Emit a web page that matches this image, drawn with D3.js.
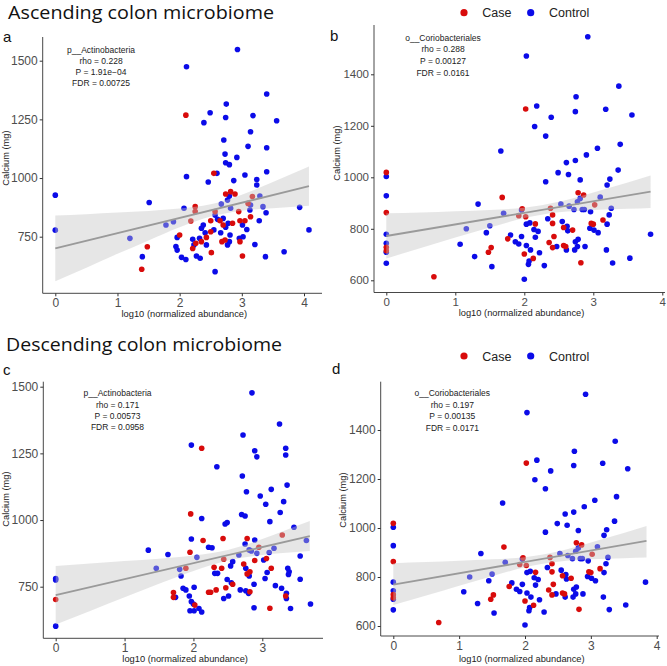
<!DOCTYPE html>
<html><head><meta charset="utf-8">
<script src="https://cdn.jsdelivr.net/npm/d3@7"></script>
<style>
html,body{margin:0;padding:0;background:#fff;}
svg{display:block;}
</style>
</head><body>
<svg id="chart" width="667" height="666"></svg>
<script>
// ---------------- DATA ----------------
const groups = ["Case", "Control"];
const titles = ["Ascending colon microbiome", "Descending colon microbiome"];
const panelLabels = ["a", "b", "c", "d"];
const xTitle = "log10 (normalized abundance)";
const yTitle = "Calcium (mg)";

const annotA = ["p__Actinobacteria", "rho = 0.228", "P = 1.91e\u221204", "FDR = 0.00725"];
const annotB = ["o__Coriobacteriales", "rho = 0.288", "P = 0.00127", "FDR = 0.0161"];
const annotC = ["p__Actinobacteria", "rho = 0.171", "P = 0.00573", "FDR = 0.0958"];
const annotD = ["o__Coriobacteriales", "rho = 0.197", "P = 0.00135", "FDR = 0.0171"];

const xTicksA = [0, 1, 2, 3, 4];
const yTicksA = [750, 1000, 1250, 1500];
const xTicksB = [0, 1, 2, 3, 4];
const yTicksB = [600, 800, 1000, 1200, 1400];
const xTicksC = [0, 1, 2, 3];
const yTicksC = [750, 1000, 1250, 1500];
const xTicksD = [0, 1, 2, 3, 4];
const yTicksD = [600, 800, 1000, 1200, 1400];

// Panel a (ascending, p__Actinobacteria)
const aCase = [[2.55,1020],[2.82,942],[2.74,932],[2.89,932],[3.17,921],[2.25,878],[2.25,857],[2.95,857],[3.10,892],[3.14,835],
 [2.18,817],[2.57,857],[2.50,818],[2.65,818],[2.85,807],[2.97,818],[3.05,818],[2.70,800],[2.50,771],[2.43,747],[2.00,757],
 [2.35,729],[2.26,722],[2.21,700],[2.68,729],[2.73,736],[2.97,729],[2.51,682],[3.01,668],[1.48,707],[1.39,611],[2.10,1268]];
const aControl = [[0,927],[0,778],[1.20,743],[1.40,665],[1.51,896],[2.11,1474],[2.93,1548],[2.49,1278],[2.39,1236],[2.75,1315],
 [2.74,1258],[3.18,1266],[3.40,1358],[3.56,1244],[3.14,1197],[2.71,1162],[3.10,1135],[3.40,1129],[2.73,1102],[2.92,1088],
 [2.74,1065],[2.80,1057],[2.60,1020],[2.11,1006],[2.46,983],[3.40,1027],[3.05,1013],[3.24,994],[3.24,970],[2.87,989],
 [2.80,923],[2.77,906],[3.29,923],[2.67,889],[2.07,871],[2.82,871],[3.14,885],[3.34,878],[3.13,864],[3.39,852],[3.28,818],
 [3.93,875],[4.08,779],[1.90,814],[1.78,800],[2.57,842],[2.61,824],[2.70,828],[2.78,807],[3.01,800],[3.08,781],[2.74,790],
 [2.66,767],[2.38,800],[2.35,786],[2.41,767],[2.55,779],[1.96,747],[2.21,739],[2.32,743],[2.23,715],[2.43,715],[2.81,757],
 [2.80,729],[2.77,715],[2.96,743],[3.02,750],[3.21,717],[1.94,708],[1.96,693],[2.03,662],[2.10,653],[2.27,668],[2.33,658],
 [3.38,665],[3.68,686],[2.57,601]];
const aFitX = [0, 4.08];
const aFitY = [700, 965];
const aBandX = [0, 0.5, 1, 1.5, 2, 2.5, 3, 3.5, 4.08];
const aBandLo = [560, 618, 677, 734, 790, 836, 861, 871, 882];
const aBandHi = [840, 846, 853, 860, 870, 888, 929, 983, 1049];

// Panels b and d (o__Coriobacteriales, same abundance / calcium values)
const bCase = [[0,1019],[0,863],[0,728],[0,715],[0.69,614],[1.48,709],[1.52,727],[1.68,922],[1.76,761],[1.92,851],[1.97,878],
 [2.00,702],[2.02,847],[2.02,1265],[2.13,685],[2.16,819],[2.36,747],[2.38,880],[2.41,854],[2.41,821],[2.43,770],[2.41,727],
 [2.57,735],[2.60,731],[2.57,805],[2.70,795],[2.78,940],[2.86,931],[2.97,821],[3.00,818],[3.02,893],[3.14,834],[2.82,668]];
const bControl = [[0,1003],[0,928],[0,779],[0,744],[0,709],[0,666],[1.07,740],[1.16,800],[1.28,692],[1.33,896],[1.45,785],
 [1.53,653],[1.50,812],[1.66,1102],[1.70,860],[1.80,776],[1.87,750],[1.92,741],[1.96,873],[1.96,770],[2.00,604],[2.03,735],
 [2.06,662],[2.07,675],[2.03,818],[2.03,1471],[2.09,718],[2.08,823],[2.18,1277],[2.15,1197],[2.14,797],[2.20,790],[2.16,767],
 [2.22,707],[2.31,1160],[2.31,983],[2.29,657],[2.39,1233],[2.34,839],[2.49,1018],[2.53,896],[2.55,828],[2.47,731],[2.61,1057],
 [2.64,1011],[2.61,718],[2.63,792],[2.62,810],[2.65,888],[2.73,718],[2.74,1255],[2.75,1313],[2.74,1065],[2.74,750],[2.78,759],
 [2.77,731],[2.72,875],[2.77,905],[2.81,918],[2.81,990],[2.84,875],[2.87,875],[2.88,731],[2.90,1087],[2.92,1546],[2.95,802],
 [2.96,866],[3.01,795],[3.06,1113],[3.07,785],[3.10,923],[3.18,1264],[3.20,970],[3.20,818],[3.19,718],[3.24,993],[3.23,854],
 [3.26,880],[3.28,667],[3.36,1028],[3.37,1354],[3.39,1128],[3.56,1242],[3.53,686],[3.83,779]];
const bFitX = [0, 3.83];
const bFitY = [772, 944];
const bBandX = [0, 0.5, 1, 1.5, 2, 2.5, 3, 3.5, 3.83];
const bBandLo = [685, 725, 766, 805, 842, 864, 873, 878, 881];
const bBandHi = [860, 863, 868, 873, 882, 905, 941, 980, 1007];

// Panel c (descending, p__Actinobacteria)
const cCase = [[0,702],[2.12,1269],[1.89,819],[1.96,1023],[3.29,944],[2.14,923],[2.43,931],[2.78,931],[1.95,879],[2.95,898],
 [2.44,853],[2.30,823],[2.41,819],[2.73,835],[2.82,806],[2.78,798],[2.89,848],[3.06,856],[3.13,819],[2.57,759],[2.47,746],
 [2.82,731],[3.34,715],[1.71,728],[1.71,710],[2.22,729],[2.25,729],[2.33,738],[2.02,681],[3.11,669]];
const cControl = [[0,781],[0,775],[0,602],[1.345,887],[1.63,871],[1.46,819],[1.80,815],[1.82,790],[1.97,1281],[2.34,1200],
 [2.85,1477],[3.25,1360],[2.72,1319],[2.89,1260],[2.92,1237],[3.34,1269],[3.34,1244],[2.71,1165],[3.13,1115],[3.36,1131],
 [2.77,1106],[2.97,1090],[3.05,1059],[3.31,1069],[3.26,1028],[2.12,1006],[2.70,1021],[2.75,1015],[2.46,985],[2.49,991],
 [3.11,994],[3.46,973],[3.64,923],[1.97,929],[2.89,925],[2.22,898],[2.27,896],[2.05,860],[2.75,910],[2.81,888],[2.84,884],
 [2.92,875],[3.10,878],[3.17,894],[2.66,869],[2.57,844],[2.54,828],[2.31,800],[2.35,800],[2.76,819],[2.81,790],[3.02,850],
 [3.07,803],[3.04,781],[3.37,819],[3.39,806],[3.38,796],[3.55,778],[3.55,865],[2.49,777],[2.55,765],[2.68,738],[2.76,735],
 [2.80,725],[2.88,759],[3.19,754],[3.28,744],[3.35,725],[3.35,706],[1.85,744],[1.89,738],[2.01,748],[1.74,710],[1.94,715],
 [2.44,706],[2.51,715],[2.00,685],[1.97,694],[1.95,660],[2.01,660],[2.08,668],[2.12,655],[2.88,671],[3.41,668],[3.70,685]];
const cFitX = [0, 3.69];
const cFitY = [718, 940];
const cBandX = [0, 0.5, 1, 1.5, 2, 2.5, 3, 3.3, 3.69];
const cBandLo = [608, 659, 710, 761, 809, 848, 869, 876, 884];
const cBandHi = [828, 837, 846, 855, 867, 888, 929, 958, 996];

// Panel d uses the same points as b
const dFitX = [0, 3.845];
const dFitY = [769, 947];
const dBandX = [0, 0.5, 1, 1.5, 2, 2.5, 3, 3.5, 3.845];
const dBandLo = [686, 724, 764, 803, 840, 862, 872, 877, 880];
const dBandHi = [856, 861, 866, 872, 881, 904, 941, 980, 1008];

// ---------------- DRAW ----------------
const colors = {Case: "#d80b0b", Control: "#0b0be8"};
const svg = d3.select("#chart");
const FONT = "'Liberation Sans', Arial, Helvetica, sans-serif";
const TITLE_FONT = "'Open Sans', Lato, sans-serif";

const panels = [
  {label: panelLabels[0], cases: aCase, ctrls: aControl, fitX: aFitX, fitY: aFitY, bX: aBandX, bLo: aBandLo, bHi: aBandHi,
   annot: annotA, xTicks: xTicksA, yTicks: yTicksA,
   xA: [0, 4], xP: [55.3, 304], yA: [750, 1500], yP: [236.7, 60.7],
   L: 42.7, R: 322, T: 37, B: 293.3, annX: 101, annY: 52.5, annDy: 11.1,
   labX: 3, labY: 42, ytX: 8.5, ytY: 158, xtY: 317, fs: 12},
  {label: panelLabels[1], cases: bCase, ctrls: bControl, fitX: bFitX, fitY: bFitY, bX: bBandX, bLo: bBandLo, bHi: bBandHi,
   annot: annotB, xTicks: xTicksB, yTicks: yTicksB,
   xA: [0, 4], xP: [386.3, 662.3], yA: [600, 1400], yP: [280.3, 74.3],
   L: 374, R: 665, T: 25, B: 292.5, annX: 443, annY: 40.5, annDy: 11.8,
   labX: 330, labY: 41, ytX: 339.5, ytY: 153, xtY: 316, fs: 11.5},
  {label: panelLabels[2], cases: cCase, ctrls: cControl, fitX: cFitX, fitY: cFitY, bX: cBandX, bLo: cBandLo, bHi: cBandHi,
   annot: annotC, xTicks: xTicksC, yTicks: yTicksC,
   xA: [0, 3], xP: [55.7, 262.3], yA: [750, 1500], yP: [586.7, 386.7],
   L: 43.3, R: 323, T: 381.7, B: 638.3, annX: 117.5, annY: 396.3, annDy: 11.3,
   labX: 3, labY: 375, ytX: 8.5, ytY: 499, xtY: 662, fs: 12},
  {label: panelLabels[3], cases: bCase, ctrls: bControl, fitX: dFitX, fitY: dFitY, bX: dBandX, bLo: dBandLo, bHi: dBandHi,
   annot: annotD, xTicks: xTicksD, yTicks: yTicksD,
   xA: [0, 4], xP: [393.3, 656.7], yA: [600, 1400], yP: [626, 430],
   L: 380.7, R: 659, T: 381.7, B: 636, annX: 452.3, annY: 396.3, annDy: 11.5,
   labX: 332, labY: 374, ytX: 346, ytY: 500, xtY: 662, fs: 12}
];

panels.forEach(p => {
  const x = d3.scaleLinear().domain(p.xA).range(p.xP);
  const y = d3.scaleLinear().domain(p.yA).range(p.yP);
  const g = svg.append("g");

  const pts = p.ctrls.map(d => ({x: d[0], y: d[1], g: groups[1]}))
    .concat(p.cases.map(d => ({x: d[0], y: d[1], g: groups[0]})));
  g.selectAll("circle.pt").data(pts).enter().append("circle")
    .attr("class", "pt")
    .attr("cx", d => x(d.x)).attr("cy", d => y(d.y)).attr("r", 2.8)
    .attr("fill", d => colors[d.g]);

  // confidence band (drawn over the points, semi-transparent)
  const band = p.bX.map((v, i) => ({x: v, lo: p.bLo[i], hi: p.bHi[i]}));
  g.append("path").datum(band)
    .attr("d", d3.area().curve(d3.curveMonotoneX).x(d => x(d.x)).y0(d => y(d.lo)).y1(d => y(d.hi)))
    .attr("fill", "#c4c4c4").attr("fill-opacity", 0.42);

  // fitted line
  g.append("path").datum(p.fitX.map((v, i) => [v, p.fitY[i]]))
    .attr("d", d3.line().x(d => x(d[0])).y(d => y(d[1])))
    .attr("stroke", "#9a9a9a").attr("stroke-width", 1.8).attr("fill", "none");

  // axis lines
  g.append("line").attr("x1", p.L).attr("x2", p.L).attr("y1", p.T).attr("y2", p.B)
    .attr("stroke", "#333").attr("stroke-width", 0.9);
  g.append("line").attr("x1", p.L).attr("x2", p.R).attr("y1", p.B).attr("y2", p.B)
    .attr("stroke", "#333").attr("stroke-width", 0.9);

  const xAxis = g.append("g").attr("transform", `translate(0,${p.B})`)
    .call(d3.axisBottom(x).tickValues(p.xTicks).tickSize(3).tickPadding(2).tickFormat(d3.format("d")));
  xAxis.select(".domain").remove();
  xAxis.selectAll("line").attr("stroke", "#333");
  xAxis.selectAll("text").attr("font-family", FONT).attr("font-size", p.fs).attr("fill", "#4d4d4d");

  const yAxis = g.append("g").attr("transform", `translate(${p.L},0)`)
    .call(d3.axisLeft(y).tickValues(p.yTicks).tickSize(3).tickPadding(2).tickFormat(d3.format("d")));
  yAxis.select(".domain").remove();
  yAxis.selectAll("line").attr("stroke", "#333");
  yAxis.selectAll("text").attr("font-family", FONT).attr("font-size", p.fs).attr("fill", "#4d4d4d");

  g.append("text").attr("x", (p.L + p.R) / 2 + 2).attr("y", p.xtY).attr("text-anchor", "middle")
    .attr("font-family", FONT).attr("font-size", 9.3).attr("fill", "#222").text(xTitle);
  g.append("text").attr("transform", `translate(${p.ytX},${p.ytY}) rotate(-90)`).attr("text-anchor", "middle")
    .attr("font-family", FONT).attr("font-size", 9.3).attr("fill", "#222").text(yTitle);

  p.annot.forEach((t, i) => {
    g.append("text").attr("x", p.annX).attr("y", p.annY + i * p.annDy).attr("text-anchor", "middle")
      .attr("font-family", FONT).attr("font-size", 8.5).attr("fill", "#222").text(t);
  });

  g.append("text").attr("x", p.labX).attr("y", p.labY)
    .attr("font-family", FONT).attr("font-size", 15).attr("fill", "#111").text(p.label);
});

// section titles
svg.append("text").attr("x", 8).attr("y", 19).attr("font-family", TITLE_FONT)
  .attr("font-size", 17.5).attr("fill", "#111").attr("textLength", 266).attr("lengthAdjust", "spacingAndGlyphs").text(titles[0]);
svg.append("text").attr("x", 6).attr("y", 351).attr("font-family", TITLE_FONT)
  .attr("font-size", 17.5).attr("fill", "#111").attr("textLength", 276).attr("lengthAdjust", "spacingAndGlyphs").text(titles[1]);

// legends
[12.7, 356].forEach(cy => {
  const lg = svg.append("g");
  const itemX = [464, 530.7];
  const textX = [482.3, 549];
  groups.forEach((gname, i) => {
    lg.append("circle").attr("cx", itemX[i]).attr("cy", cy).attr("r", 3.6).attr("fill", colors[gname]);
    lg.append("text").attr("x", textX[i]).attr("y", cy + 4.5).attr("font-family", FONT)
      .attr("font-size", 12.5).attr("fill", "#222").text(gname);
  });
});
</script>
</body></html>
